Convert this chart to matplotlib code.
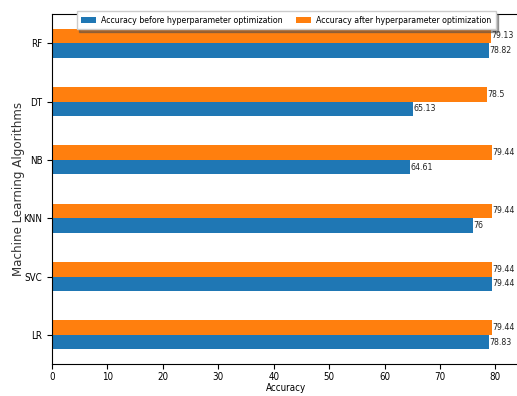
import matplotlib
matplotlib.use("Agg")
import matplotlib.pyplot as plt
import numpy as np

algorithms = ["LR", "SVC", "KNN", "NB", "DT", "RF"]
acc_before = [78.83, 79.44, 76, 64.61, 65.13, 78.82]
acc_after = [79.44, 79.44, 79.44, 79.44, 78.5, 79.13]
labels_before = ["78.83", "79.44", "76", "64.61", "65.13", "78.82"]
labels_after = ["79.44", "79.44", "79.44", "79.44", "78.5", "79.13"]

plt.rcParams["font.family"] = ["DejaVu Sans"]
plt.rcParams["font.stretch"] = "condensed"

fig = plt.figure(figsize=(5.17, 3.96), dpi=100)
ax = fig.add_axes([0.1006, 0.0808, 0.906, 0.8838])

y = np.arange(len(algorithms))
h = 0.25
b1 = ax.barh(y - h / 2, acc_before, height=h, color="#1f77b4",
             label="Accuracy before hyperparameter optimization")
b2 = ax.barh(y + h / 2, acc_after, height=h, color="#ff7f0e",
             label="Accuracy after hyperparameter optimization")

for bars, labs in ((b1, labels_before), (b2, labels_after)):
    for bar, lab in zip(bars, labs):
        ax.text(bar.get_width() + 0.05, bar.get_y() + bar.get_height() / 2, lab,
                va="center", ha="left", fontsize=6.3, color="#222222")

ax.set_yticks(y)
ax.set_yticklabels(algorithms, fontsize=7)
ax.set_ylim(-0.5, len(algorithms) - 0.5)
ax.set_xlim(0, 84.5)
ax.set_xticks(np.arange(0, 81, 10))
ax.tick_params(axis="x", labelsize=7, pad=2.5)
ax.set_xlabel("Accuracy", fontsize=7)
ax.xaxis.set_label_coords(0.5, -0.053)
ax.set_ylabel("Machine Learning Algorithms", fontsize=8.6, stretch="normal",
              color="#333333")
ax.yaxis.set_label_coords(-0.058, 0.5)

ax.legend(loc="upper center", bbox_to_anchor=(0.5, 1.02), ncol=2,
          fontsize=6.3, frameon=True, fancybox=False, shadow=True,
          handlelength=1.7, handletextpad=0.6, columnspacing=1.5,
          borderpad=0.5)

fig.savefig("out.png", dpi=100)
